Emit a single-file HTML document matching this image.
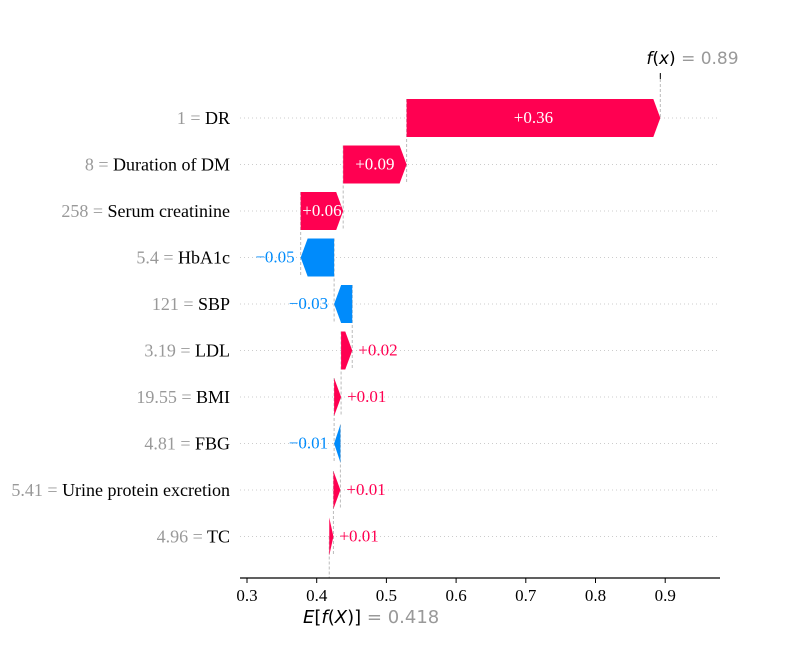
<!DOCTYPE html>
<html><head><meta charset="utf-8"><style>
body{margin:0;background:#fff}
svg text{font-family:"Liberation Serif",serif}
</style></head><body>
<svg id="c" width="800" height="650" xmlns="http://www.w3.org/2000/svg"></svg>
<script>
const features=["DR","Duration of DM","Serum creatinine","HbA1c","SBP","LDL","BMI","FBG","Urine protein excretion","TC"];
const featureValues=["1","8","258","5.4","121","3.19","19.55","4.81","5.41","4.96"];
const shapValues=[0.364,0.091,0.061,-0.048,-0.026,0.016,0.01,-0.009,0.01,0.006];
const valueLabels=["+0.36","+0.09","+0.06","\u22120.05","\u22120.03","+0.02","+0.01","\u22120.01","+0.01","+0.01"];
const baseValue=0.418, fx=0.89;
const ticks=[0.3,0.4,0.5,0.6,0.7,0.8,0.9];
const NS="http://www.w3.org/2000/svg", svg=document.getElementById('c');
const X=v=>247+(v-0.3)*697;
const Y=i=>118+i*46.5;
function el(t,a,txt){const e=document.createElementNS(NS,t);for(const k in a)e.setAttribute(k,a[k]);if(txt!=null)e.textContent=txt;svg.appendChild(e);return e;}
const RED="#ff0051",BLUE="#008bfb",H=19;
const n=features.length, starts=[], ends=[];
let cur=baseValue;
for(let i=n-1;i>=0;i--){starts[i]=cur;cur+=shapValues[i];ends[i]=cur;}
for(let i=0;i<n;i++){const g=el('line',{x1:240,x2:720,y1:Y(i),y2:Y(i),stroke:'#ccc','stroke-dasharray':'1,3','stroke-width':1});
}
for(let i=0;i<n-1;i++){const l=el('line',{x1:X(starts[i]),x2:X(starts[i]),y1:Y(i)-H,y2:Y(i+1)+H,stroke:'#bbb','stroke-dasharray':'3,2','stroke-width':1});
}
let l1=el('line',{x1:X(baseValue),x2:X(baseValue),y1:Y(n-1),y2:578,stroke:'#bbb','stroke-dasharray':'3,2'});

let l2=el('line',{x1:X(ends[0]),x2:X(ends[0]),y1:74,y2:Y(0),stroke:'#bbb','stroke-dasharray':'3,2'});

el('line',{x1:X(ends[0]),x2:X(ends[0]),y1:73,y2:79,stroke:'#000'});
for(let i=0;i<n;i++){
 const a=X(starts[i]),b=X(ends[i]),y=Y(i),pos=shapValues[i]>0,col=pos?RED:BLUE;
 const w=Math.abs(b-a),head=Math.min(7,w),dir=pos?1:-1;
 const bodyEnd=b-dir*head;
 const pts=[[a,y-H],[bodyEnd,y-H],[b,y],[bodyEnd,y+H],[a,y+H]].map(p=>p.join(',')).join(' ');
 const p=el('polygon',{points:pts,fill:col});
 
 
 let t;
 if(w>38){t=el('text',{x:(a+b)/2,y:y+5,'text-anchor':'middle','font-size':17,fill:'#fff'},valueLabels[i]);}
 else if(pos){t=el('text',{x:b+6,y:y+5,'text-anchor':'start','font-size':17,fill:col},valueLabels[i]);}
 else{t=el('text',{x:b-6,y:y+5,'text-anchor':'end','font-size':17,fill:col},valueLabels[i]);}
 
 const lab=el('text',{x:230,y:y+6,'text-anchor':'end','font-size':18});
 
 const s1=document.createElementNS(NS,'tspan');s1.setAttribute('fill','#999');s1.textContent=featureValues[i]+' = ';lab.appendChild(s1);
 const s2=document.createElementNS(NS,'tspan');s2.setAttribute('fill','#000');s2.textContent=features[i];lab.appendChild(s2);
}
const ax=el('line',{x1:240,x2:720,y1:578,y2:578,stroke:'#000','stroke-width':1.2});

for(const t of ticks){el('line',{x1:X(t),x2:X(t),y1:578,y2:583,stroke:'#000'});
 const tl=el('text',{x:X(t),y:601,'text-anchor':'middle','font-size':17},t.toFixed(1));
 }
const eb=el('text',{x:303,y:623,'text-anchor':'start','font-size':18,style:'font-family:"DejaVu Sans",sans-serif'});

eb.innerHTML='<tspan font-style="italic">E</tspan>[<tspan font-style="italic">f</tspan>(<tspan font-style="italic">X</tspan>)] <tspan fill="#999">= '+baseValue.toFixed(3)+'</tspan>';
const ft=el('text',{x:X(ends[0])-14,y:64,'text-anchor':'start','font-size':17,style:'font-family:"DejaVu Sans",sans-serif'});

ft.innerHTML='<tspan font-style="italic">f</tspan>(<tspan font-style="italic">x</tspan>) <tspan fill="#999">= '+fx.toFixed(2)+'</tspan>';
</script>
</body></html>
